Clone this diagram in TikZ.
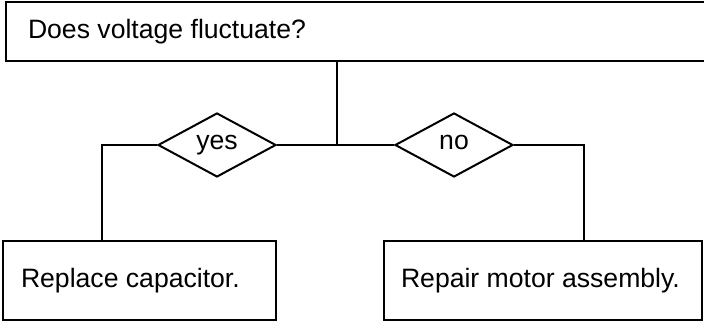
\documentclass[tikz,border=0pt]{standalone}
\usepackage{fontspec}
\setmainfont{Liberation Sans}
\usepackage{tikz}
\usetikzlibrary{shapes.geometric, positioning}

\begin{document}
\begin{tikzpicture}[
  x=0.5pt, y=-0.5pt,
  line width=1pt,
  box/.style={rectangle, draw, anchor=north west, align=flush left, font=\fontsize{13.3}{15}\selectfont},
  choice/.style={diamond, draw, aspect=1.84, minimum width=59pt, minimum height=32pt,
                 inner sep=0pt, text height=7pt, text depth=2pt, font=\fontsize{13.3}{15}\selectfont},
]
\useasboundingbox (0,0) rectangle (704,324);
\clip (0,0) rectangle (704,324);

%% ---- question ----
\node[box, text width=327.5pt, inner xsep=11.25pt, minimum height=29.5pt] (question) at (4.5,1.5)
      {Does voltage fluctuate?};

%% ---- answers ----
\coordinate (split) at (337,145);
\node[choice] (yes) at (217,145) {yes};
\node[choice] (no)  at (454,145) {no};
\coordinate (lturn) at (102,145);
\coordinate (rturn) at (584,145);

%% ---- actions ----
\node[box, text width=118.65pt, inner xsep=8.85pt, minimum height=39.5pt] (replace) at (2.3,240)
      {Replace capacitor.};
\node[box, text width=142pt, inner xsep=8.5pt, minimum height=39.5pt] (repair) at (383,240)
      {Repair motor assembly.};

\draw (split |- question.south) -- (split);
\draw (yes.east) -- (no.west);
\draw (yes.west) -- (lturn) -- (lturn |- replace.north);
\draw (no.east) -- (rturn) -- (rturn |- repair.north);

\end{tikzpicture}
\end{document}
